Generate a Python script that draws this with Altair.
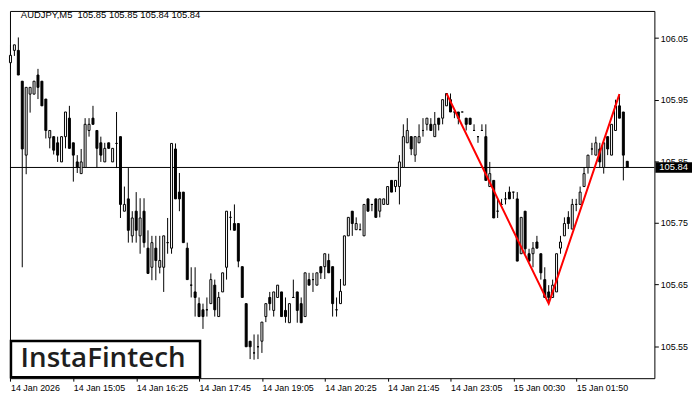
import altair as alt
import pandas as pd

# ---- data (AUDJPY M5 candles) ----
opens = [106.010, 106.030, 106.030, 105.980, 105.860, 105.959, 105.959, 105.990, 105.980, 105.951,
         105.888, 105.890, 105.880, 105.849, 105.890, 105.920, 105.880, 105.849, 105.830, 105.840,
         105.900, 105.920, 105.900, 105.880, 105.849, 105.880, 105.849, 105.879, 105.890, 105.769,
         105.789, 105.729, 105.769, 105.729, 105.769, 105.709, 105.678, 105.709, 105.678, 105.678,
         105.718, 105.709, 105.870, 105.800, 105.800, 105.709, 105.649, 105.638, 105.619, 105.609,
         105.609, 105.619, 105.649, 105.598, 105.638, 105.678, 105.759, 105.749, 105.749, 105.679,
         105.619, 105.558, 105.539, 105.549, 105.558, 105.598, 105.629, 105.608, 105.629, 105.638,
         105.608, 105.588, 105.629, 105.638, 105.619, 105.598, 105.658, 105.658, 105.649, 105.679,
         105.679, 105.689, 105.679, 105.609, 105.619, 105.649, 105.729, 105.769, 105.739, 105.739,
         105.729, 105.789, 105.780, 105.789, 105.769, 105.780, 105.780, 105.819, 105.809, 105.809,
         105.840, 105.880, 105.890, 105.860, 105.880, 105.900, 105.910, 105.910, 105.890, 105.920,
         105.920, 105.940, 105.950, 105.930, 105.930, 105.930, 105.920, 105.920, 105.900, 105.890,
         105.900, 105.890, 105.809, 105.819, 105.769, 105.780, 105.789, 105.800, 105.800, 105.789,
         105.700, 105.769, 105.700, 105.700, 105.719, 105.700, 105.658, 105.638, 105.629, 105.638,
         105.709, 105.729, 105.759, 105.740, 105.780, 105.780, 105.809, 105.840, 105.870, 105.860,
         105.870, 105.840, 105.890, 105.860, 105.900, 105.940, 105.930, 105.850]
highs = [106.039, 106.039, 106.051, 105.980, 105.970, 105.970, 105.980, 106.000, 105.980, 105.951,
         105.900, 105.890, 105.890, 105.890, 105.930, 105.940, 105.880, 105.860, 105.870, 105.920,
         105.920, 105.940, 105.900, 105.890, 105.880, 105.880, 105.871, 105.930, 105.890, 105.809,
         105.839, 105.769, 105.800, 105.790, 105.790, 105.738, 105.729, 105.729, 105.729, 105.729,
         105.758, 105.879, 105.879, 105.831, 105.800, 105.718, 105.678, 105.678, 105.629, 105.619,
         105.629, 105.668, 105.658, 105.638, 105.669, 105.769, 105.769, 105.780, 105.749, 105.679,
         105.619, 105.558, 105.569, 105.569, 105.589, 105.619, 105.638, 105.638, 105.649, 105.638,
         105.629, 105.619, 105.658, 105.638, 105.629, 105.669, 105.669, 105.669, 105.669, 105.679,
         105.700, 105.700, 105.679, 105.629, 105.659, 105.729, 105.759, 105.769, 105.759, 105.749,
         105.780, 105.789, 105.780, 105.789, 105.789, 105.789, 105.809, 105.819, 105.819, 105.860,
         105.910, 105.920, 105.890, 105.890, 105.910, 105.920, 105.920, 105.920, 105.930, 105.920,
         105.950, 105.960, 105.960, 105.930, 105.930, 105.930, 105.920, 105.920, 105.910, 105.890,
         105.910, 105.910, 105.849, 105.819, 105.789, 105.789, 105.800, 105.809, 105.800, 105.800,
         105.759, 105.769, 105.708, 105.719, 105.729, 105.700, 105.678, 105.649, 105.658, 105.700,
         105.729, 105.759, 105.769, 105.789, 105.789, 105.809, 105.840, 105.860, 105.880, 105.890,
         105.880, 105.880, 105.890, 105.910, 105.950, 105.959, 105.930, 105.850]
lows = [105.999, 106.021, 105.990, 105.678, 105.829, 105.929, 105.959, 105.951, 105.940, 105.887,
        105.871, 105.861, 105.849, 105.849, 105.871, 105.871, 105.817, 105.831, 105.830, 105.840,
        105.890, 105.910, 105.840, 105.849, 105.849, 105.871, 105.849, 105.839, 105.758, 105.769,
        105.718, 105.718, 105.718, 105.700, 105.710, 105.668, 105.657, 105.657, 105.668, 105.638,
        105.700, 105.700, 105.789, 105.769, 105.718, 105.658, 105.629, 105.598, 105.598, 105.578,
        105.598, 105.619, 105.598, 105.598, 105.638, 105.658, 105.738, 105.738, 105.678, 105.629,
        105.549, 105.529, 105.528, 105.529, 105.539, 105.589, 105.608, 105.598, 105.629, 105.598,
        105.588, 105.588, 105.629, 105.588, 105.588, 105.598, 105.649, 105.638, 105.649, 105.659,
        105.659, 105.669, 105.598, 105.598, 105.619, 105.649, 105.729, 105.729, 105.739, 105.739,
        105.729, 105.769, 105.769, 105.759, 105.759, 105.780, 105.780, 105.800, 105.800, 105.780,
        105.840, 105.880, 105.860, 105.849, 105.880, 105.890, 105.900, 105.900, 105.890, 105.900,
        105.910, 105.940, 105.930, 105.920, 105.910, 105.930, 105.900, 105.910, 105.900, 105.880,
        105.900, 105.819, 105.809, 105.758, 105.758, 105.780, 105.780, 105.789, 105.789, 105.688,
        105.700, 105.700, 105.688, 105.678, 105.709, 105.658, 105.629, 105.619, 105.629, 105.638,
        105.700, 105.729, 105.740, 105.740, 105.769, 105.780, 105.809, 105.830, 105.860, 105.860,
        105.840, 105.830, 105.860, 105.860, 105.900, 105.920, 105.819, 105.840]
closes = [106.022, 106.039, 105.990, 105.870, 105.970, 105.970, 105.980, 105.970, 105.940, 105.900,
          105.900, 105.868, 105.860, 105.890, 105.930, 105.871, 105.860, 105.840, 105.849, 105.910,
          105.910, 105.910, 105.871, 105.860, 105.871, 105.871, 105.871, 105.879, 105.780, 105.780,
          105.738, 105.758, 105.738, 105.758, 105.718, 105.668, 105.718, 105.689, 105.689, 105.729,
          105.718, 105.879, 105.789, 105.789, 105.718, 105.658, 105.649, 105.629, 105.598, 105.598,
          105.609, 105.658, 105.609, 105.629, 105.669, 105.769, 105.759, 105.738, 105.688, 105.629,
          105.549, 105.549, 105.539, 105.549, 105.589, 105.619, 105.619, 105.638, 105.649, 105.598,
          105.598, 105.619, 105.629, 105.608, 105.588, 105.669, 105.649, 105.658, 105.669, 105.669,
          105.700, 105.669, 105.619, 105.609, 105.639, 105.729, 105.759, 105.749, 105.749, 105.739,
          105.780, 105.769, 105.780, 105.759, 105.789, 105.789, 105.809, 105.800, 105.819, 105.849,
          105.890, 105.900, 105.870, 105.890, 105.890, 105.900, 105.920, 105.900, 105.910, 105.910,
          105.950, 105.960, 105.930, 105.930, 105.920, 105.930, 105.910, 105.910, 105.900, 105.890,
          105.900, 105.819, 105.830, 105.758, 105.769, 105.780, 105.789, 105.789, 105.800, 105.688,
          105.759, 105.708, 105.688, 105.709, 105.709, 105.669, 105.629, 105.629, 105.649, 105.700,
          105.719, 105.749, 105.749, 105.780, 105.780, 105.800, 105.830, 105.860, 105.870, 105.880,
          105.849, 105.880, 105.870, 105.910, 105.940, 105.920, 105.860, 105.840]

tick_idx = [0, 16, 32, 48, 64, 80, 96, 112, 128, 144]
tick_labels = ["14 Jan 2026", "14 Jan 15:05", "14 Jan 16:25", "14 Jan 17:45", "14 Jan 19:05",
               "14 Jan 20:25", "14 Jan 21:45", "14 Jan 23:05", "15 Jan 00:30", "15 Jan 01:50"]
y_ticks = [105.55, 105.65, 105.75, 105.85, 105.95, 106.05]

pattern_idx = [111, 137, 155]
pattern_price = [105.960, 105.619, 105.959]

current_price = [105.84]
header = ["AUDJPY,M5\u00a0\u00a0105.85 105.85 105.84 105.84"]
brand = ["InstaFintech"]

# ---- chart ----
W, H = 651, 371
FONT = "Liberation Sans"

df = pd.DataFrame({"i": list(range(len(opens))), "open": opens, "high": highs,
                   "low": lows, "close": closes})
pat = pd.DataFrame({"i": pattern_idx, "p": pattern_price})
cur = pd.DataFrame({"p": current_price})

xs = alt.Scale(domain=[-0.125, 163.9], nice=False, zero=False, padding=0)
ys = alt.Scale(domain=[105.498, 106.094], nice=False, zero=False, padding=0)

label_expr = ("[" + ",".join("'" + t + "'" for t in tick_labels) + "][indexof(["
              + ",".join(str(v) for v in tick_idx) + "], datum.value)]")
xaxis = alt.Axis(values=tick_idx, labelExpr=label_expr, title=None, labelAlign="left",
                 labelPadding=2, tickSize=3, labelFontSize=9)
yaxis = alt.Axis(orient="right", values=y_ticks, format=".2f", title=None,
                 tickSize=4, labelPadding=2, labelFontSize=9)

X = alt.X("i:Q", scale=xs, axis=xaxis)

price_line = alt.Chart(cur).mark_rule(color="black", strokeWidth=1).encode(
    y=alt.Y("p:Q", scale=ys, axis=yaxis))

wicks = alt.Chart(df).mark_rule(color="black", strokeWidth=1).encode(
    x=X, y=alt.Y("low:Q", scale=ys, axis=yaxis), y2="high:Q")

bodies = alt.Chart(df).mark_bar(size=2, stroke="black", strokeWidth=1).encode(
    x=X, y=alt.Y("open:Q", scale=ys, axis=yaxis), y2="close:Q",
    fill=alt.condition("datum.close >= datum.open", alt.value("white"), alt.value("black")))

pattern = alt.Chart(pat).mark_line(color="#ff0000", strokeWidth=2).encode(
    x=X, y=alt.Y("p:Q", scale=ys, axis=yaxis))

box = alt.Chart(cur).transform_calculate(
    top="datum.p + 0.0085", bot="datum.p - 0.0085"
).mark_rect(color="black").encode(
    x=alt.value(W + 1), x2=alt.value(W + 38),
    y=alt.Y("top:Q", scale=ys, axis=yaxis), y2="bot:Q")
box_text = alt.Chart(cur).mark_text(color="white", font=FONT, fontSize=9.5,
                                    align="center", baseline="middle").encode(
    x=alt.value(W + 19.5), y=alt.Y("p:Q", scale=ys, axis=yaxis),
    text=alt.Text("p:Q", format=".2f"))

head = alt.Chart(pd.DataFrame({"t": header})).mark_text(
    font=FONT, fontSize=9.5, align="left", baseline="alphabetic", color="black").encode(
    x=alt.value(11), y=alt.value(7), text="t:N")

logo_box = alt.Chart(pd.DataFrame({"t": brand})).mark_rect(
    fill="white", stroke="black", strokeWidth=2.5).encode(
    x=alt.value(1), x2=alt.value(192), y=alt.value(H - 37.5), y2=alt.value(H - 1))
logo_text = alt.Chart(pd.DataFrame({"t": brand})).mark_text(
    font="Open Sans", fontSize=28, fontWeight=600, color="#1e1e1e",
    align="center", baseline="middle").encode(
    x=alt.value(94), y=alt.value(H - 19), text="t:N")

chart = alt.layer(price_line, wicks, bodies, pattern, logo_box, logo_text, head,
                  box, box_text).properties(
    width=W, height=H, padding=0, background="white"
).configure_view(stroke="black", strokeWidth=1).configure_axis(
    domain=False, grid=False, tickColor="black", labelColor="black",
    labelFont=FONT, ticks=True)

chart.save("out.html", embed_options={"renderer": "svg", "actions": False})
